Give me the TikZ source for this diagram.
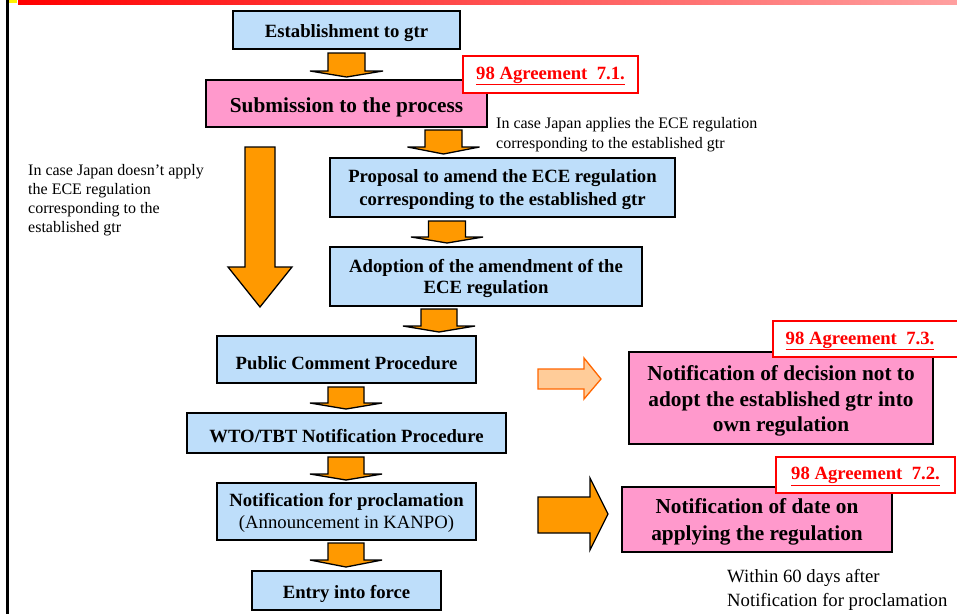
\documentclass[tikz,border=0pt]{standalone}
\usepackage{fontspec}
\setmainfont{Liberation Serif}
\usetikzlibrary{positioning}
\definecolor{boxblue}{RGB}{190,222,250}
\definecolor{boxpink}{RGB}{255,153,204}
\definecolor{arrorange}{RGB}{255,153,0}
\definecolor{lightorange}{RGB}{255,204,153}
\definecolor{edgeorange}{RGB}{255,102,0}
\definecolor{barred}{RGB}{255,0,0}
\definecolor{barpink}{RGB}{255,160,160}
\tikzset{
  bluebox/.style={draw=black, line width=2.4pt, fill=boxblue, align=center, inner sep=0pt,
    font=\fontsize{18.7}{23}\selectfont\bfseries, execute at begin node={\rule{0pt}{20pt}}},
  pinkbox/.style={draw=black, line width=2.4pt, fill=boxpink, align=center, inner sep=0pt,
    font=\fontsize{21.3}{25.5}\selectfont\bfseries, execute at begin node={\rule{0pt}{22pt}}},
  bluetext/.style={align=center, inner sep=0pt, font=\fontsize{18.7}{22}\selectfont\bfseries},
  pinktext/.style={align=center, inner sep=0pt, font=\fontsize{21.3}{25.5}\selectfont\bfseries},
  redlabel/.style={draw=red, line width=2.6pt, fill=white, inner sep=0pt},
  redtext/.style={text=red, font=\fontsize{18.7}{22}\selectfont\bfseries, inner sep=0pt},
  note/.style={align=left, inner sep=0pt, font=\fontsize{16}{19.5}\selectfont},
  blockarrow/.style={draw=black, line width=1.3pt, fill=arrorange, line join=miter},
  lightarrow/.style={draw=edgeorange, line width=1.3pt, fill=lightorange, line join=miter}
}
% down block arrow: center x, shaft half width, head half width, top y, head base y, tip y
\newcommand\dnarrow[7][blockarrow]{%
  \draw[#1] (#2-#3,#5) -- (#2-#3,#6) -- (#2-#4,#6) -- (#2,#7) -- (#2+#4,#6) -- (#2+#3,#6) -- (#2+#3,#5) -- cycle;}
\begin{document}
\begin{tikzpicture}[x=1pt,y=-1pt]
\useasboundingbox (0,0) rectangle (957,614);
% top bar and left rule
\shade[left color=barred, right color=barpink] (18,0) rectangle (957,4);
\fill[yellow] (9,0) rectangle (17,3);
\fill[black] (6,0) rectangle (9,614);

% main column boxes
\node[bluebox, minimum width=227, minimum height=38] (est) at (346.5,30) {Establishment to gtr};
\node[pinkbox, minimum width=281, minimum height=47] (sub) at (346.5,103.5) {Submission to the process};
\node[redlabel, minimum width=175, minimum height=37] (l71) at (550.5,74.5) {};
\node[redtext] (t71) at ([yshift=-1.5pt]l71.center) {\underline{98 Agreement\ \ 7.1.}};

\node[bluebox, minimum width=345, minimum height=59] (prop) at (502.5,187.5) {};
\node[bluetext, font=\fontsize{18.7}{23}\selectfont\bfseries] (tprop) at ([yshift=-2pt]prop.center) {Proposal to amend the ECE regulation\\corresponding to the established gtr};
\node[bluebox, minimum width=312, minimum height=59] (adop) at (486,276.5) {};
\node[bluetext, font=\fontsize{18.7}{21.5}\selectfont\bfseries] (tadop) at ([yshift=-2pt]adop.center) {Adoption of the amendment of the\\ECE regulation};
\node[bluebox, minimum width=259, minimum height=47] (pub) at (346.5,359.5) {Public Comment Procedure};
\node[bluebox, minimum width=319, minimum height=40] (wto) at (346.5,433) {WTO/TBT Notification Procedure};
\node[bluebox, minimum width=259, minimum height=57] (proc) at (346.5,511.5) {};
\node[bluetext, font=\fontsize{18.7}{21.5}\selectfont\bfseries] (tproc) at ([yshift=-1.5pt]proc.center) {Notification for proclamation\\{\mdseries (Announcement in KANPO)}};
\node[bluebox, minimum width=189, minimum height=39] (entry) at (346.5,590.5) {Entry into force};

% right column
\node[pinkbox, minimum width=304, minimum height=92] (n73) at (781,398) {};
\node[pinktext] (tn73) at ([yshift=-3pt]n73.center) {Notification of decision not to\\adopt the established gtr into\\own regulation};
\node[redlabel, minimum width=204, minimum height=36] (l73) at (875,339) {};
\node[redtext] (t73) at (860,341) {\underline{98 Agreement\ \ 7.3.}};
\node[pinkbox, minimum width=270, minimum height=65] (n72) at (757,519.5) {};
\node[pinktext, font=\fontsize{21.3}{27}\selectfont\bfseries] (tn72) at ([yshift=-2pt]n72.center) {Notification of date on\\applying the regulation};
\node[redlabel, minimum width=179, minimum height=36] (l72) at (865.5,475) {};
\node[redtext] (t72) at ([yshift=-1.5pt]l72.center) {\underline{98 Agreement\ \ 7.2.}};

% notes
\node[note, font=\fontsize{16}{20}\selectfont, anchor=west] (napp) at (496,135) {In case Japan applies the ECE regulation\\corresponding to the established gtr};
\node[note, font=\fontsize{16}{19}\selectfont, anchor=west] (nnot) at (28,200) {In case Japan doesn't apply\\the ECE regulation\\corresponding to the\\established gtr};
\node[note, anchor=west, font=\fontsize{18.7}{24}\selectfont] (n60) at (727,590) {Within 60 days after\\Notification for proclamation};

% block arrows
\dnarrow{346.5}{18.5}{36.5}{53}{71}{77}
\dnarrow{443.5}{18.5}{36}{130}{147}{154}
\dnarrow{447}{18.5}{36}{221}{237}{243}
\dnarrow{439}{18}{36}{309}{326}{332}
\dnarrow{346}{18}{36}{387}{403}{409}
\dnarrow{346}{18}{36}{457}{474}{480}
\dnarrow{346}{18}{36}{543}{560}{567}
% big left arrow
\dnarrow{260}{15}{32}{147}{267}{307}
% right arrows
\draw[lightarrow] (538,369) -- (584,369) -- (584,358) -- (601,379) -- (584,399) -- (584,389) -- (538,389) -- cycle;
\draw[blockarrow] (538,497) -- (590,497) -- (590,478) -- (608,514) -- (590,550) -- (590,533) -- (538,533) -- cycle;
\end{tikzpicture}
\end{document}
